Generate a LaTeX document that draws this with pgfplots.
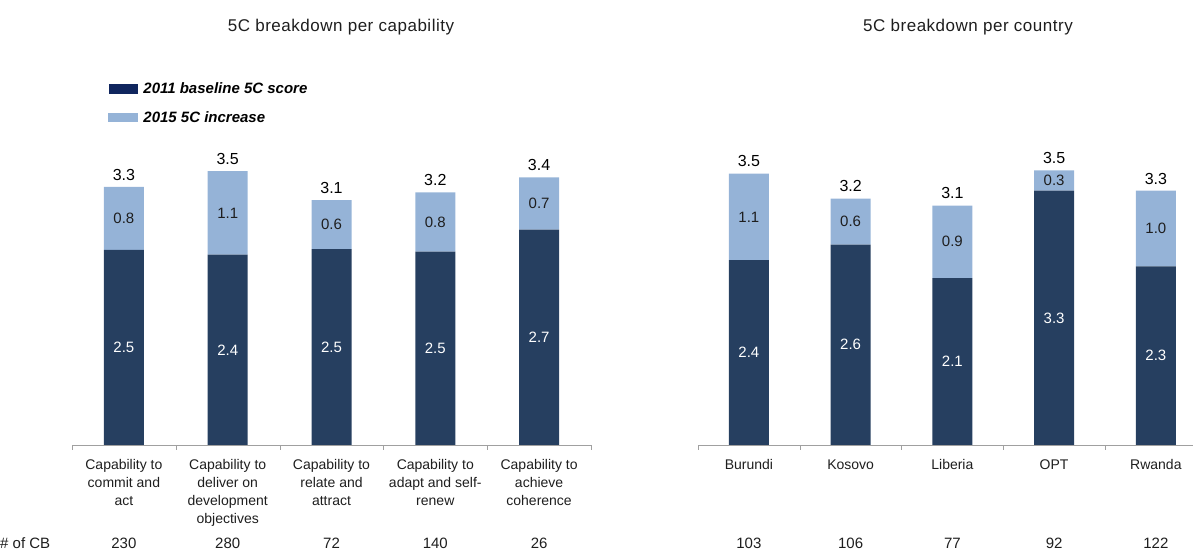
\documentclass[border=0pt]{standalone}
\usepackage{pgfplots}
\pgfplotsset{compat=1.18}
\usepackage{pgfplotstable}
\usepackage{fontspec}
\setmainfont{Liberation Sans}
\definecolor{darkbar}{RGB}{38,63,96}
\definecolor{lightbar}{RGB}{149,179,215}
\definecolor{legdark}{RGB}{16,38,94}
\definecolor{axgray}{RGB}{160,160,160}
\definecolor{txt}{RGB}{30,30,30}

\pgfplotstableread{
x base inc bl il tot
0 2.50 0.81 2.5 0.8 3.3
1 2.44 1.07 2.4 1.1 3.5
2 2.51 0.63 2.5 0.6 3.1
3 2.48 0.76 2.5 0.8 3.2
4 2.76 0.67 2.7 0.7 3.4
}\capdata

\pgfplotstableread{
x base inc bl il tot
0 2.37 1.11 2.4 1.1 3.5
1 2.57 0.59 2.6 0.6 3.2
2 2.14 0.93 2.1 0.9 3.1
3 3.26 0.26 3.3 0.3 3.5
4 2.29 0.97 2.3 1.0 3.3
}\ctrdata

\pgfplotsset{
  frame/.style={scale only axis, ymin=0, ymax=4, height=312pt, xmin=-0.5, clip=false},
  mybars/.style={frame, ybar stacked, bar width=40pt,
    axis y line=none, axis x line=bottom,
    x axis line style={-, draw=axgray},
    xtick={0,...,4}, major tick length=0pt,
    minor tick length=5pt, xtick align=outside,
    tick style={draw=axgray},
    xticklabel style={align=center, font=\fontsize{14}{18}\selectfont, text=txt, anchor=north, yshift=-11pt},
  },
  labels/.style={frame, axis lines=none, xtick=\empty, ytick=\empty},
  lab/.style={only marks, mark=none, point meta=explicit symbolic, nodes near coords,
    every node near coord/.append style={anchor=center, font=\fontsize{15}{17}\selectfont}},
}

\begin{document}
\begin{tikzpicture}[x=1pt,y=1pt]
\useasboundingbox (0,0) rectangle (1193,553);
\node[font=\fontsize{17}{19}\selectfont\addfontfeature{LetterSpace=3}, text=txt] at (341,526) {5C breakdown per capability};
\node[font=\fontsize{17}{19}\selectfont\addfontfeature{LetterSpace=3}, text=txt] at (968,526) {5C breakdown per country};
\node[anchor=west, font=\fontsize{15}{17}\selectfont, text=txt, inner sep=0pt] at (0,10) {\# of CB};

% ---------- left ----------
\begin{axis}[mybars,
  at={(72pt,108pt)}, anchor=south west,
  width=519pt, xmax=4.5,
  minor xtick={-0.5,0.5,1.5,2.5,3.5,4.5},
  xticklabels={{Capability to\\commit and\\act},{Capability to\\deliver on\\development\\objectives},{Capability to\\relate and\\attract},{Capability to\\adapt and self-\\renew},{Capability to\\achieve\\coherence}},
  legend style={at={(rel axis cs:0.069,1.168)}, anchor=north west, draw=none, fill=none,
    font=\fontsize{15}{17}\selectfont\bfseries\itshape, row sep=12pt, column sep=4pt, inner sep=0pt},
  legend cell align=left,
]
\addplot+[fill=darkbar, draw=none, forget plot] table[x=x, y=base] {\capdata};
\addplot+[fill=lightbar, draw=none, forget plot] table[x=x, y=inc] {\capdata};
\addlegendimage{legend image code/.code={\fill[legdark] (0pt,-4.5pt) rectangle (28pt,4.5pt);}}
\addlegendentry{2011 baseline 5C score}
\addlegendimage{legend image code/.code={\fill[lightbar] (-1pt,-4pt) rectangle (28pt,4pt);}}
\addlegendentry{2015 5C increase}
\node[font=\fontsize{15}{17}\selectfont, text=txt] at (axis cs:0,-1.256) {230};
\node[font=\fontsize{15}{17}\selectfont, text=txt] at (axis cs:1,-1.256) {280};
\node[font=\fontsize{15}{17}\selectfont, text=txt] at (axis cs:2,-1.256) {72};
\node[font=\fontsize{15}{17}\selectfont, text=txt] at (axis cs:3,-1.256) {140};
\node[font=\fontsize{15}{17}\selectfont, text=txt] at (axis cs:4,-1.256) {26};
\end{axis}
\begin{axis}[labels, at={(72pt,108pt)}, anchor=south west, width=519pt, xmax=4.5]
\addplot[lab, every node near coord/.append style={text=white}] table[x=x, y expr=\thisrow{base}/2, meta=bl] {\capdata};
\addplot[lab, every node near coord/.append style={text=txt}] table[x=x, y expr=\thisrow{base}+\thisrow{inc}/2, meta=il] {\capdata};
\addplot[lab, every node near coord/.append style={text=black, anchor=south, yshift=3pt, font=\fontsize{16}{18}\selectfont}] table[x=x, y expr=\thisrow{base}+\thisrow{inc}, meta=tot] {\capdata};
\end{axis}

% ---------- right ----------
\begin{axis}[mybars,
  at={(698pt,108pt)}, anchor=south west,
  width=495pt, xmax=4.365,
  minor xtick={-0.5,0.5,1.5,2.5,3.5},
  xticklabels={Burundi,Kosovo,Liberia,OPT,Rwanda},
]
\addplot+[fill=darkbar, draw=none] table[x=x, y=base] {\ctrdata};
\addplot+[fill=lightbar, draw=none] table[x=x, y=inc] {\ctrdata};
\node[font=\fontsize{15}{17}\selectfont, text=txt] at (axis cs:0,-1.256) {103};
\node[font=\fontsize{15}{17}\selectfont, text=txt] at (axis cs:1,-1.256) {106};
\node[font=\fontsize{15}{17}\selectfont, text=txt] at (axis cs:2,-1.256) {77};
\node[font=\fontsize{15}{17}\selectfont, text=txt] at (axis cs:3,-1.256) {92};
\node[font=\fontsize{15}{17}\selectfont, text=txt] at (axis cs:4,-1.256) {122};
\end{axis}
\begin{axis}[labels, at={(698pt,108pt)}, anchor=south west, width=495pt, xmax=4.365]
\addplot[lab, every node near coord/.append style={text=white}] table[x=x, y expr=\thisrow{base}/2, meta=bl] {\ctrdata};
\addplot[lab, every node near coord/.append style={text=txt}] table[x=x, y expr=\thisrow{base}+\thisrow{inc}/2, meta=il] {\ctrdata};
\addplot[lab, every node near coord/.append style={text=black, anchor=south, yshift=3pt, font=\fontsize{16}{18}\selectfont}] table[x=x, y expr=\thisrow{base}+\thisrow{inc}, meta=tot] {\ctrdata};
\end{axis}
\end{tikzpicture}
\end{document}
